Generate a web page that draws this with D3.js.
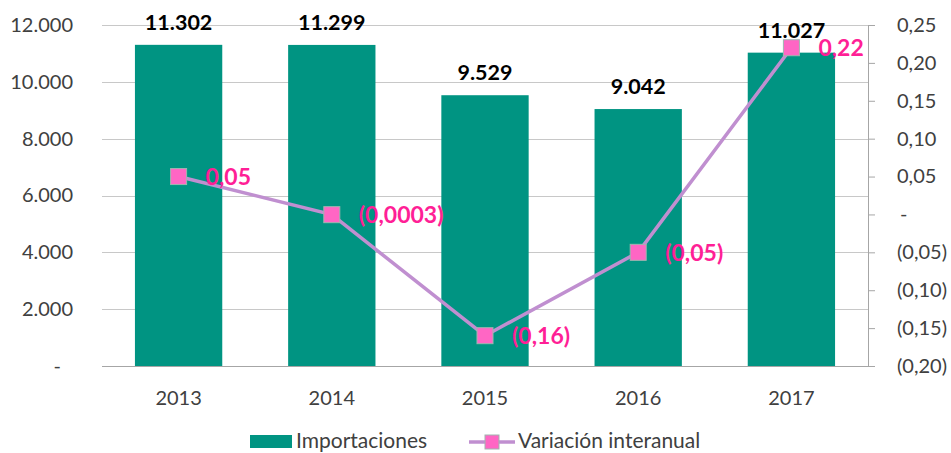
<!DOCTYPE html>
<html>
<head>
<meta charset="utf-8">
<script src="https://cdn.jsdelivr.net/npm/d3@7/dist/d3.min.js"></script>
<style>
  html, body { margin: 0; padding: 0; background: #fff; }
  svg { display: block; font-family: Lato, "Open Sans", sans-serif; }
</style>
</head>
<body>
<svg id="chart" width="951" height="453"></svg>
<script>
// Imports by year (bars, left axis) and year-on-year change (line, right axis)
const years = ["2013", "2014", "2015", "2016", "2017"];
const importaciones = [11302, 11299, 9529, 9042, 11027];
const variacion = [0.05, -0.0003, -0.16, -0.05, 0.22];
const leftTicks = [0, 2000, 4000, 6000, 8000, 10000, 12000];
const rightTicks = [-0.20, -0.15, -0.10, -0.05, 0, 0.05, 0.10, 0.15, 0.20, 0.25];
const seriesNames = ["Importaciones", "Variación interanual"];

const BAR = "#009482", LINE = "#c08fd0", MARK = "#ff66c4", PINK = "#ff1f96", GRID = "#c8c8c8";

const svg = d3.select("#chart");
const plotLeft = 102, plotRight = 868, plotTop = 25, plotBottom = 366;

const x = d3.scaleBand().domain(years).range([plotLeft, plotRight]).paddingInner(0.43).paddingOuter(0.215);
const y = d3.scaleLinear().domain([0, 12000]).range([plotBottom, plotTop]);
const yR = d3.scaleLinear().domain([-0.20, 0.25]).range([plotBottom, plotTop]);

const loc = d3.formatLocale({ decimal: ",", thousands: ".", grouping: [3], currency: ["", ""] });
const fmtInt = loc.format(",d");
const fmtLeft = v => v === 0 ? "-" : fmtInt(v);
const fmtRight = v => {
  if (Math.abs(v) < 1e-9) return "-";
  const s = loc.format(".2f")(Math.abs(v));
  return v < 0 ? "(" + s + ")" : s;
};
const fmtVar = v => {
  const s = String(Math.abs(v)).replace(".", ",");
  return v < 0 ? "(" + s + ")" : s;
};

// Horizontal gridlines
svg.append("g").selectAll("line").data(leftTicks.filter(d => d > 0)).join("line")
  .attr("x1", plotLeft).attr("x2", plotRight)
  .attr("y1", d => Math.round(y(d)) + 0.5).attr("y2", d => Math.round(y(d)) + 0.5)
  .attr("stroke", GRID).attr("stroke-width", 1);

// Left axis labels
const gL = svg.append("g")
  .attr("transform", `translate(${plotLeft},0)`)
  .call(d3.axisLeft(y).tickValues(leftTicks).tickFormat(fmtLeft).tickSize(0).tickPadding(29));
gL.select(".domain").remove();
gL.selectAll("text").attr("font-size", 20).attr("fill", "#404040").attr("font-family", "Lato, sans-serif")
  .attr("dx", d => d === 0 ? -12 : 0);

// Bars
svg.append("g").selectAll("rect").data(importaciones).join("rect")
  .attr("x", (d, i) => x(years[i]))
  .attr("width", x.bandwidth())
  .attr("y", d => y(d))
  .attr("height", d => y(0) - y(d))
  .attr("fill", BAR);

// Baseline
svg.append("line").attr("x1", plotLeft).attr("x2", plotRight)
  .attr("y1", Math.round(y(0)) + 0.5).attr("y2", Math.round(y(0)) + 0.5)
  .attr("stroke", "#a6a6a6").attr("stroke-width", 1);

// Right axis
const gR = svg.append("g")
  .attr("transform", `translate(${plotRight},0)`)
  .call(d3.axisRight(yR).tickValues(rightTicks).tickFormat(fmtRight).tickSize(7).tickSizeOuter(0).tickPadding(22));
gR.select(".domain").attr("stroke", "#a6a6a6");
gR.selectAll(".tick line").attr("stroke", "#a6a6a6");
gR.selectAll("text").attr("font-size", 20).attr("fill", "#404040").attr("font-family", "Lato, sans-serif")
  .attr("dx", d => Math.abs(d) < 1e-9 ? 3 : 0);

// Category labels
svg.append("g").selectAll("text").data(years).join("text")
  .attr("x", d => x(d) + x.bandwidth() / 2)
  .attr("y", 405)
  .attr("text-anchor", "middle")
  .attr("font-size", 20).attr("fill", "#404040")
  .text(d => d);

// Bar value labels
svg.append("g").selectAll("text").data(importaciones).join("text")
  .attr("x", (d, i) => x(years[i]) + x.bandwidth() / 2)
  .attr("y", d => y(d) - 15)
  .attr("text-anchor", "middle")
  .attr("font-size", 21.5).attr("font-weight", "bold").attr("fill", "#000")
  .text(d => fmtInt(d));

// Variation line
const cx = i => x(years[i]) + x.bandwidth() / 2;
svg.append("path").datum(variacion)
  .attr("d", d3.line().x((d, i) => cx(i)).y(d => yR(d)))
  .attr("fill", "none").attr("stroke", LINE).attr("stroke-width", 3.5);

svg.append("g").selectAll("rect").data(variacion).join("rect")
  .attr("x", (d, i) => cx(i) - 8).attr("y", d => yR(d) - 8)
  .attr("width", 16).attr("height", 16)
  .attr("fill", MARK).attr("stroke", "#9fb6b0").attr("stroke-width", 1);

svg.append("g").selectAll("text").data(variacion).join("text")
  .attr("x", (d, i) => cx(i) + 27)
  .attr("y", d => yR(d))
  .attr("dy", "0.36em")
  .attr("font-size", 23).attr("font-weight", "bold").attr("fill", PINK)
  .text(d => fmtVar(d));

// Legend
const lg = svg.append("g");
lg.append("rect").attr("x", 250).attr("y", 435).attr("width", 42).attr("height", 13).attr("fill", BAR);
lg.append("text").attr("x", 296).attr("y", 448).attr("font-size", 21).attr("fill", "#404040").text(seriesNames[0]);
lg.append("line").attr("x1", 469).attr("x2", 515).attr("y1", 442).attr("y2", 442)
  .attr("stroke", LINE).attr("stroke-width", 3.5);
lg.append("rect").attr("x", 485).attr("y", 435).attr("width", 14).attr("height", 14)
  .attr("fill", MARK).attr("stroke", "#9fb6b0").attr("stroke-width", 1);
lg.append("text").attr("x", 518).attr("y", 448).attr("font-size", 21).attr("fill", "#404040").text(seriesNames[1]);
</script>
</body>
</html>
